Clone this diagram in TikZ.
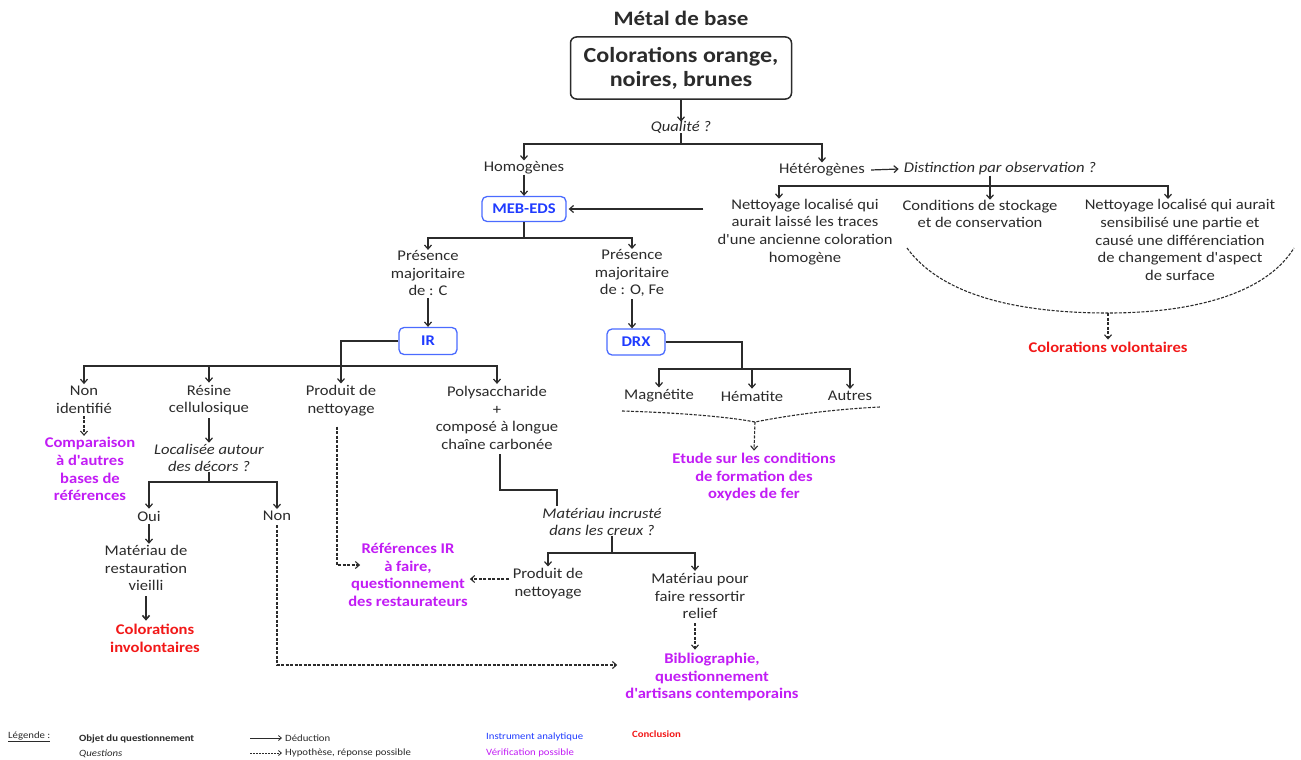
\documentclass[tikz,border=0pt]{standalone}
\usepackage{fontspec}
\setmainfont{Carlito}[FakeStretch=1.12, Ligatures=TeXOff]
\usetikzlibrary{arrows.meta,calc}
\definecolor{ink}{HTML}{2B2B2B}
\definecolor{iblue}{HTML}{1F3BFF}
\definecolor{bblue}{HTML}{4A6BFF}
\definecolor{vmag}{HTML}{C21CF5}
\definecolor{cred}{HTML}{F21818}
\newcommand\fn{\fontsize{14.8}{17.8}\selectfont}
\newcommand\fsm{\fontsize{9.6}{11.5}\selectfont}
\begin{document}
\begin{tikzpicture}[x=1pt,y=-1pt,
  txt/.style={align=center, inner sep=0pt, text=ink, font=\fn},
  qst/.style={txt, font=\fn\itshape},
  ver/.style={txt, text=vmag, font=\fn\bfseries},
  con/.style={txt, text=cred, font=\fn\bfseries},
  ins/.style={draw=bblue, line width=1.3pt, rounded corners=5pt, text=iblue, font=\fn\bfseries, inner sep=0pt},
  lin/.style={draw=ink, line width=1.2pt},
  arr/.style={lin, -{Straight Barb[length=4pt,width=7pt]}},
  dsh/.style={draw=ink, line width=1.1pt, dash pattern=on 3pt off 1.5pt, -{Straight Barb[length=4pt,width=7pt]}},
  dcurve/.style={draw=ink, line width=1.1pt, dash pattern=on 3pt off 1.5pt},
  leg/.style={anchor=west, inner sep=0pt, text=ink, font=\fsm}]
\useasboundingbox[fill=white] (0,0) rectangle (1301,760);

% top
\node[txt, font=\fontsize{20.5}{24}\selectfont\bfseries] (title) at (681,18) {Métal de base};
\node[draw=ink, line width=1.5pt, rounded corners=6pt, minimum width=221pt, minimum height=62pt,
      align=center, text=ink, font=\fontsize{21.5}{24}\selectfont\bfseries, inner sep=0pt] (main) at (681,68) {Colorations orange,\\noires, brunes};
\node[qst] (qual) at (681,127) {Qualité ?};
\node[txt] (homo) at (524,168) {Homogènes};
\node[txt] (hetero) at (822,170) {Hétérogènes};
\node[qst] (dist) at (1000,169) {Distinction par observation ?};
\node[txt] (n1) at (805,232) {Nettoyage localisé qui\\aurait laissé les traces\\d'une ancienne coloration\\homogène};
\node[txt] (cond) at (980,214) {Conditions de stockage\\et de conservation};
\node[txt] (n2) at (1180,240) {Nettoyage localisé qui aurait\\sensibilisé une partie et\\causé une différenciation\\de changement d'aspect\\de surface};
\node[con] (vol) at (1108,347) {Colorations volontaires};

\node[ins, minimum width=84pt, minimum height=25pt] (meb) at (524,209) {MEB-EDS};
\node[txt] (pc) at (428,273) {Présence\\majoritaire\\de : C};
\node[txt] (po) at (632,273) {Présence\\majoritaire\\de : O, Fe};
\node[ins, minimum width=58pt, minimum height=27pt] (ir) at (428,341) {IR};
\node[ins, minimum width=58pt, minimum height=26pt] (drx) at (636,342) {DRX};

% IR branch
\node[txt] (nonid) at (84,400) {Non\\identifié};
\node[txt] (resine) at (209,400) {Résine\\cellulosique};
\node[txt] (prod1) at (341,401) {Produit de\\nettoyage};
\node[txt] (poly) at (497,418) {Polysaccharide\\+\\composé à longue\\chaîne carbonée};
\node[ver] (comp) at (90,469) {Comparaison\\à d'autres\\bases de\\références};
\node[qst] (loc) at (209,458) {Localisée autour\\des décors ?};
\node[txt] (oui) at (149,516) {Oui};
\node[txt] (non) at (277,516) {Non};
\node[txt] (mat) at (146,568) {Matériau de\\restauration\\vieilli};
\node[con] (invol) at (155,638) {Colorations\\involontaires};
\node[ver] (refir) at (408,575) {Références IR\\à faire,\\questionnement\\des restaurateurs};
\node[qst] (matinc) at (602,522) {Matériau incrusté\\dans les creux ?};
\node[txt] (prod2) at (548,584) {Produit de\\nettoyage};
\node[txt] (matpour) at (700,596) {Matériau pour\\faire ressortir\\relief};
\node[ver] (biblio) at (712,677) {Bibliographie,\\questionnement\\d'artisans contemporains};

% DRX branch
\node[txt] (magn) at (659,396) {Magnétite};
\node[txt] (hema) at (752,396) {Hématite};
\node[txt] (autres) at (850,396) {Autres};
\node[ver] (etude) at (754,477) {Etude sur les conditions\\de formation des\\oxydes de fer};

% coordinates
\coordinate (j1) at (681,144);
\coordinate (j2) at (990,186);
\coordinate (j3) at (524,238);
\coordinate (j4) at (341,366);
\coordinate (j5) at (209,482);
\coordinate (j6) at (557,490);
\coordinate (j8) at (612,553);
\coordinate (j9) at (742,369);
\coordinate (cu1) at (622,411);
\coordinate (cu2) at (755,422);
\coordinate (cu3) at (880,407);
\coordinate (ar1) at (907,248);
\coordinate (ar2) at (1108,313);
\coordinate (ar3) at (1294,248);

% connectors top
\draw[arr] (main.south) -- ([yshift=-1pt]qual.north);
\draw[lin] (qual.south) -- (j1);
\draw[arr] (j1) -| ([yshift=1pt]homo.north);
\draw[arr] (j1) -| ([yshift=1pt]hetero.north);
\draw[arr] ([xshift=6pt]hetero.east) -- ([xshift=-5pt]dist.west);
\draw[arr] (j2 |- dist.south) -- (j2 |- cond.north);
\draw[arr] (j2) -| ([xshift=-26pt]n1.north);
\draw[arr] (j2) -| ([xshift=-12pt]n2.north);
\draw[arr] ([xshift=-14pt]meb.east -| n1.west) -- ([xshift=2pt]meb.east);
\draw[dcurve] (ar1) .. controls (945,300) and (1030,313) .. (ar2) .. controls (1190,313) and (1265,295) .. (ar3);
\draw[dsh] (ar2) -- ([yshift=2pt]vol.north);

% MEB-EDS
\draw[arr] (homo.south) -- (meb.north);
\draw[lin] (meb.south) -- (j3);
\draw[arr] (j3) -| (pc.north);
\draw[arr] (j3) -| (po.north);
\draw[arr] ([yshift=-2pt]pc.south) -- (ir.north);
\draw[arr] ([yshift=-2pt]po.south) -- (po.south |- drx.north);

% IR
\draw[arr] (ir.west) -| ([yshift=2pt]prod1.north);
\draw[arr] (j4) -| ([yshift=2pt]nonid.north);
\draw[arr] (j4) -| ([yshift=2pt]resine.north);
\draw[arr] (j4) -| ([yshift=2pt]poly.north);
\draw[dsh] ([yshift=-2pt]nonid.south) -- ([yshift=1pt]nonid.south |- comp.north);
\draw[arr] ([yshift=-3pt]resine.south) -- ([yshift=1pt]resine.south |- loc.north);
\draw[lin] (loc.south) -- (j5);
\draw[arr] (j5) -| ([yshift=2pt]oui.north);
\draw[arr] (j5) -| ([yshift=2pt]non.north);
\draw[arr] ([yshift=-3pt]oui.south) -- ([yshift=1pt]oui.south |- mat.north);
\draw[lin, line width=1.6pt, -{Straight Barb[length=4pt,width=7pt]}] ([yshift=-5pt]mat.south) -- ([yshift=3pt]mat.south |- invol.north);
\draw[dsh] ([yshift=-4pt]non.south) |- ([yshift=12pt,xshift=-8pt]biblio.west);
\draw[dsh] ([xshift=-4pt,yshift=-10pt]prod1.south) |- ([yshift=10pt,xshift=12pt]refir.west);
\draw[lin, line width=1.7pt] ([xshift=3pt,yshift=-4pt]poly.south) |- (j6) -- ([yshift=2pt]j6 |- matinc.north);
\draw[lin] (j8 |- matinc.south) -- (j8);
\draw[arr] (j8) -| ([yshift=2pt]prod2.north);
\draw[arr] (j8) -| ([xshift=-5pt,yshift=2pt]matpour.north);
\draw[dsh] ([xshift=-4pt,yshift=5pt]prod2.west) -- ([xshift=2pt,yshift=5pt]prod2.west -| refir.east);
\draw[dsh] ([xshift=-5pt,yshift=-4pt]matpour.south) -- ([xshift=-5pt,yshift=3pt]matpour.south |- biblio.north);

% DRX
\draw[lin] (drx.east) -| (j9);
\draw[arr] (j9) -| ([yshift=2pt]magn.north);
\draw[arr] (j9) -| ([yshift=2pt]autres.north);
\draw[arr] (hema.north |- j9) -- ([yshift=2pt]hema.north);
\draw[dcurve] (cu1) .. controls (690,413) and (735,418) .. (cu2) .. controls (775,418) and (820,410) .. (cu3);
\draw[dsh] (cu2) -- ([yshift=2pt]etude.north);

% legend
\node[leg] (lgd) at (8,737) {\underline{Légende :}};
\node[leg, font=\fsm\bfseries] (lobj) at (79,739) {Objet du questionnement};
\node[leg, font=\fsm\itshape] (lq) at (79,754) {Questions};
\node[leg] (lded) at (285,738) {Déduction};
\node[leg] (lhyp) at (285,753) {Hypothèse, réponse possible};
\node[leg, text=iblue] (lins) at (486,737) {Instrument analytique};
\node[leg, text=vmag] (lver) at (486,753) {Vérification possible};
\node[leg, text=cred, font=\fsm\bfseries] (lcon) at (632,734) {Conclusion};
\draw[draw=ink, line width=0.8pt, -{Straight Barb[length=3pt,width=5pt]}] ([xshift=-35pt]lded.west) -- ([xshift=-3pt]lded.west);
\draw[draw=ink, line width=0.8pt, dash pattern=on 2pt off 1pt, -{Straight Barb[length=3pt,width=5pt]}] ([xshift=-35pt]lhyp.west) -- ([xshift=-3pt]lhyp.west);
\end{tikzpicture}
\end{document}
